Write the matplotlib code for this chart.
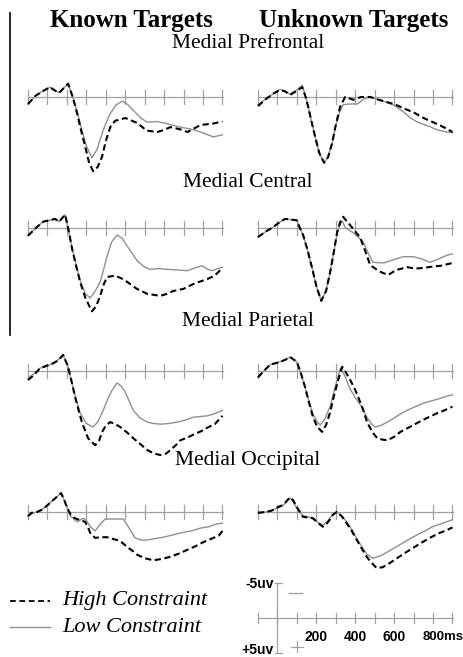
import matplotlib.pyplot as plt
from matplotlib.lines import Line2D

# ERP grand averages, (ms, uV) pairs; negative is plotted up
PF_KNOWN_HIGH = [(-100, 1.0), (-60, -0.2), (-20, -0.9), (13, -1.4), (40, -0.9), (60, -0.6),
                 (106, -1.9), (130, 0.0), (152, 2.3), (175, 5.0), (194, 7.1), (215, 9.5),
                 (235, 10.6), (258, 10.0), (280, 8.6), (300, 6.3), (323, 4.3), (348, 3.4),
                 (400, 3.0), (461, 3.7), (510, 4.8), (565, 5.0), (600, 4.7), (632, 4.3),
                 (680, 4.6), (720, 5.0), (787, 4.0), (850, 3.8), (900, 3.5)]
PF_KNOWN_LOW = [(-100, 1.0), (-60, -0.2), (-20, -0.9), (13, -1.4), (40, -0.9), (60, -0.6),
                (106, -1.9), (130, 0.0), (152, 2.0), (175, 4.5), (200, 7.0), (228, 8.7),
                (255, 7.5), (287, 4.7), (320, 2.5), (350, 1.2), (385, 0.6), (410, 1.0),
                (441, 1.9), (480, 3.0), (513, 3.6), (560, 3.5), (596, 3.7), (640, 4.0),
                (683, 4.3), (740, 4.6), (787, 5.0), (853, 5.7), (900, 5.4)]

PF_UNKNOWN_HIGH = [(-100, 1.3), (-60, 0.3), (-20, -0.5), (13, -1.0), (40, -0.8), (65, -0.3),
                   (100, -0.9), (127, -1.4), (145, 0.0), (158, 1.4), (175, 3.5), (194, 5.7),
                   (215, 8.0), (240, 9.4), (260, 8.6), (281, 6.6), (300, 4.0), (322, 1.4),
                   (348, 0.0), (390, 0.4), (430, 0.0), (477, 0.0), (510, 0.3), (545, 0.6),
                   (600, 1.0), (647, 1.6), (700, 2.2), (751, 3.0), (800, 3.6), (854, 4.3),
                   (900, 5.0)]
PF_UNKNOWN_LOW = [(-100, 1.1), (-60, 0.3), (-20, -0.5), (13, -1.1), (40, -0.8), (65, -0.4),
                  (100, -1.0), (127, -1.7), (145, 0.0), (158, 1.4), (175, 3.5), (194, 5.7),
                  (215, 8.0), (240, 9.4), (260, 8.6), (281, 6.6), (300, 4.0), (322, 2.0),
                  (338, 1.1), (370, 1.0), (410, 1.0), (450, 0.2), (477, 0.0), (545, 0.6),
                  (600, 1.2), (647, 2.1), (685, 3.0), (720, 3.6), (780, 4.2), (823, 4.7),
                  (870, 5.0), (900, 5.1)]

MC_KNOWN_HIGH = [(-100, 1.1), (-60, 0.0), (-22, -0.9), (10, -1.1), (39, -1.3), (60, -0.9),
                 (91, -1.9), (110, 0.5), (127, 3.0), (148, 5.5), (168, 7.7), (195, 10.0),
                 (229, 11.9), (250, 11.2), (271, 9.7), (290, 8.0), (307, 7.0), (348, 6.8),
                 (380, 7.2), (410, 7.7), (460, 8.7), (513, 9.4), (580, 9.7), (615, 9.4),
                 (647, 9.0), (699, 8.7), (750, 8.0), (790, 7.6), (822, 7.3), (860, 6.8),
                 (900, 5.7)]
MC_KNOWN_LOW = [(-100, 1.1), (-60, 0.0), (-22, -0.9), (10, -1.1), (39, -1.3), (60, -0.9),
                (91, -1.9), (110, 0.5), (127, 3.0), (148, 5.3), (168, 7.5), (195, 9.4),
                (220, 10.0), (250, 8.8), (271, 7.7), (290, 5.8), (307, 4.0), (330, 2.0),
                (358, 1.0), (385, 1.5), (410, 2.6), (440, 3.8), (462, 4.7), (495, 5.5),
                (528, 5.9), (570, 5.8), (615, 5.9), (670, 6.0), (718, 6.1), (760, 5.7),
                (795, 5.4), (825, 5.9), (848, 6.1), (875, 5.8), (900, 5.6)]

MC_UNKNOWN_HIGH = [(-100, 1.3), (-60, 0.5), (-23, -0.1), (10, -0.8), (39, -1.3), (70, -1.2),
                   (100, -1.1), (115, 0.0), (132, 1.0), (155, 3.2), (178, 5.7), (200, 8.3),
                   (225, 10.4), (250, 9.0), (271, 6.3), (290, 3.4), (307, 0.6), (322, -0.8),
                   (338, -1.6), (355, -1.0), (374, -0.4), (400, 0.5), (426, 1.4), (450, 3.2),
                   (477, 5.3), (513, 6.0), (540, 6.4), (570, 6.7), (610, 6.0), (667, 5.6),
                   (710, 5.8), (750, 5.7), (800, 5.5), (838, 5.4), (900, 5.0)]
MC_UNKNOWN_LOW = [(-100, 1.3), (-60, 0.5), (-23, -0.1), (10, -0.8), (39, -1.3), (70, -1.2),
                  (100, -1.1), (115, 0.0), (132, 1.0), (155, 3.2), (178, 5.7), (200, 8.3),
                  (225, 10.4), (250, 9.0), (271, 6.3), (290, 3.4), (307, 0.8), (322, -0.5),
                  (333, -1.0), (350, 0.0), (374, 0.4), (400, 0.9), (441, 2.0), (470, 3.8),
                  (492, 4.9), (545, 5.0), (600, 4.5), (647, 4.1), (700, 4.1), (750, 4.5),
                  (785, 4.9), (830, 4.4), (870, 3.9), (900, 3.7)]

MP_KNOWN_HIGH = [(-100, 1.3), (-70, 0.6), (-38, -0.4), (0, -0.8), (29, -1.1), (55, -1.5),
                 (81, -2.3), (106, -0.6), (125, 1.6), (142, 3.7), (160, 5.6), (178, 7.4),
                 (209, 9.6), (245, 10.6), (265, 10.0), (281, 8.7), (300, 7.8), (323, 7.3),
                 (350, 7.6), (374, 8.0), (410, 8.8), (441, 9.6), (480, 10.5), (513, 11.3),
                 (550, 11.8), (580, 12.0), (610, 11.8), (632, 11.3), (660, 10.6), (683, 9.9),
                 (720, 9.5), (750, 9.1), (790, 8.6), (822, 8.1), (860, 7.6), (900, 6.4)]
MP_KNOWN_LOW = [(-100, 1.0), (-70, 0.4), (-38, -0.4), (0, -0.7), (29, -1.1), (55, -1.6),
                (81, -2.3), (106, -0.6), (125, 1.6), (142, 3.5), (168, 6.0), (200, 7.5),
                (235, 8.0), (260, 7.2), (287, 5.6), (310, 4.0), (333, 2.7), (358, 1.7),
                (380, 2.2), (400, 3.0), (420, 4.3), (441, 5.6), (475, 6.7), (513, 7.3),
                (545, 7.5), (580, 7.6), (625, 7.5), (668, 7.3), (710, 7.0), (750, 6.6),
                (790, 6.5), (822, 6.4), (860, 6.1), (900, 5.6)]

MP_UNKNOWN_HIGH = [(-100, 0.9), (-70, 0.0), (-38, -0.9), (13, -1.3), (40, -1.6), (65, -2.0),
                   (100, -1.3), (120, 0.3), (142, 2.3), (162, 4.5), (183, 6.6), (205, 8.0),
                   (230, 8.7), (250, 7.7), (271, 5.9), (290, 3.6), (312, 1.3), (333, -0.6),
                   (350, 0.1), (374, 1.3), (395, 2.4), (415, 3.7), (440, 5.5), (462, 7.4),
                   (490, 8.8), (513, 9.6), (540, 9.8), (565, 9.9), (600, 9.4), (632, 8.7),
                   (680, 8.0), (720, 7.4), (770, 6.7), (823, 6.0), (860, 5.6), (900, 5.1)]
MP_UNKNOWN_LOW = [(-100, 0.9), (-70, 0.0), (-38, -0.9), (13, -1.3), (40, -1.6), (65, -2.0),
                  (100, -1.3), (120, 0.3), (142, 2.3), (162, 4.3), (183, 6.2), (205, 7.3),
                  (220, 7.7), (245, 6.8), (271, 5.0), (300, 2.0), (323, -0.4), (345, 0.6),
                  (374, 2.6), (400, 3.8), (430, 5.0), (462, 6.7), (485, 7.6), (503, 8.0),
                  (530, 7.8), (565, 7.3), (600, 6.7), (647, 5.9), (700, 5.2), (750, 4.6),
                  (800, 4.2), (838, 3.9), (870, 3.6), (900, 3.4)]

MO_KNOWN_HIGH = [(-100, 0.6), (-80, 0.1), (-54, 0.0), (-30, -0.3), (-3, -0.9), (29, -1.7),
                 (50, -2.2), (70, -2.7), (85, -1.8), (101, -0.6), (120, 0.4), (142, 0.9),
                 (170, 1.2), (194, 1.4), (210, 2.3), (220, 3.0), (245, 3.7), (275, 3.6),
                 (307, 3.6), (330, 3.8), (358, 4.0), (385, 4.4), (410, 5.0), (440, 5.6),
                 (461, 6.1), (500, 6.6), (544, 6.9), (590, 6.7), (632, 6.4), (680, 5.9),
                 (719, 5.4), (760, 4.9), (802, 4.3), (853, 3.7), (880, 3.4), (900, 2.7)]
MO_KNOWN_LOW = [(-100, 0.6), (-80, 0.2), (-54, 0.0), (-30, -0.3), (-3, -0.9), (29, -1.7),
                (50, -2.2), (70, -2.7), (85, -1.8), (101, -0.6), (120, 0.6), (152, 1.4),
                (183, 0.9), (200, 1.2), (220, 2.1), (245, 2.7), (270, 1.8), (297, 1.0),
                (340, 1.0), (390, 1.0), (420, 2.3), (451, 3.7), (480, 4.0), (513, 4.0),
                (555, 3.8), (596, 3.6), (640, 3.3), (683, 3.0), (740, 2.7), (787, 2.3),
                (830, 2.1), (870, 1.7), (900, 1.6)]

MO_UNKNOWN_HIGH = [(-100, 0.1), (-60, 0.0), (-30, -0.2), (-5, -0.6), (28, -1.0), (45, -1.5),
                   (64, -2.1), (80, -1.7), (100, -0.7), (131, 0.7), (160, 0.8), (182, 0.9),
                   (210, 1.6), (233, 2.1), (255, 1.6), (269, 1.1), (285, 0.4), (305, 0.0),
                   (330, 0.6), (356, 1.6), (380, 2.6), (408, 4.0), (435, 5.3), (459, 6.4),
                   (485, 7.3), (510, 8.0), (540, 7.9), (577, 7.3), (620, 6.5), (664, 5.7),
                   (705, 5.0), (746, 4.3), (790, 3.6), (833, 3.0), (870, 2.6), (900, 2.2)]
MO_UNKNOWN_LOW = [(-100, 0.2), (-60, 0.0), (-30, -0.2), (-5, -0.5), (28, -0.9), (45, -1.4),
                  (64, -2.0), (80, -1.5), (100, -0.5), (131, 0.5), (160, 0.7), (182, 0.8),
                  (210, 1.5), (233, 1.9), (255, 1.4), (269, 0.9), (285, 0.3), (305, 0.0),
                  (330, 0.5), (356, 1.4), (380, 2.4), (408, 3.8), (435, 5.0), (459, 6.0),
                  (490, 6.6), (515, 6.4), (541, 6.1), (585, 5.4), (628, 4.7), (670, 4.0),
                  (715, 3.3), (760, 2.7), (797, 2.1), (850, 1.6), (900, 1.1)]

ROWS = [
    ('Medial Prefrontal', PF_KNOWN_HIGH, PF_KNOWN_LOW, PF_UNKNOWN_HIGH, PF_UNKNOWN_LOW),
    ('Medial Central', MC_KNOWN_HIGH, MC_KNOWN_LOW, MC_UNKNOWN_HIGH, MC_UNKNOWN_LOW),
    ('Medial Parietal', MP_KNOWN_HIGH, MP_KNOWN_LOW, MP_UNKNOWN_HIGH, MP_UNKNOWN_LOW),
    ('Medial Occipital', MO_KNOWN_HIGH, MO_KNOWN_LOW, MO_UNKNOWN_HIGH, MO_UNKNOWN_LOW),
]
SCALE_LABELS = [200, 400, 600]

W, H = 464, 657
PX_MS = 19.45 / 100   # pixels per ms
PX_UV = 7.0           # pixels per uV
GRAY = '#8f8f8f'
AXIS_GRAY = '#a0a0a0'

fig = plt.figure(figsize=(W / 100, H / 100), dpi=100)
fig.patch.set_facecolor('white')


def erp_axes(x0, base):
    # axes in ms / uV with 0 ms at x0 + 100 ms and 0 uV at pixel row `base`
    top = base - 9 * PX_UV
    bottom = base + 14 * PX_UV
    ax = fig.add_axes([x0 / W, 1 - bottom / H, 1000 * PX_MS / W, (bottom - top) / H])
    ax.set_xlim(-100, 900)
    ax.set_ylim(14, -9)
    ax.axis('off')
    ax.patch.set_alpha(0)
    return ax


def time_axis(ax, tick=1.0):
    ax.plot([-100, 905], [0, 0], color=AXIS_GRAY, lw=0.9, clip_on=False)
    for t in range(-100, 901, 100):
        ax.plot([t, t], [-tick, tick], color=AXIS_GRAY, lw=0.9, clip_on=False)


def draw_curves(ax, high, low):
    ax.plot([p[0] for p in low], [p[1] for p in low], color=GRAY, lw=1.0, clip_on=False)
    ax.plot([p[0] for p in high], [p[1] for p in high], color='black', lw=1.5,
            dashes=(3.0, 1.7), clip_on=False)


baselines = [97, 228, 371, 512]
title_y = [44, 183, 322, 461]
for (name, kh, kl, uh, ul), base, ty in zip(ROWS, baselines, title_y):
    for x0, high, low in [(28, kh, kl), (258, uh, ul)]:
        ax = erp_axes(x0, base)
        time_axis(ax)
        draw_curves(ax, high, low)
    fig.text(248 / W, 1 - ty / H, name, ha='center', va='center',
             family='Liberation Serif', fontsize=15.5)

fig.text(131 / W, 1 - 21 / H, 'Known Targets', ha='center', va='center',
         family='Liberation Serif', weight='bold', fontsize=18)
fig.text(354 / W, 1 - 21 / H, 'Unknown Targets', ha='center', va='center',
         family='Liberation Serif', weight='bold', fontsize=18)

# frame line on the left
fig.add_artist(Line2D([10 / W, 10 / W], [1 - 13 / H, 1 - 335 / H], color='black', lw=1.2))

# legend
for y, style in [(601, 'high'), (627, 'low')]:
    if style == 'high':
        ln = Line2D([10 / W, 50 / W], [1 - y / H] * 2, color='black', lw=1.3, dashes=(3.2, 2.0))
        label = 'High Constraint'
    else:
        ln = Line2D([10 / W, 50 / W], [1 - y / H] * 2, color=GRAY, lw=1.0)
        label = 'Low Constraint'
    fig.add_artist(ln)
    fig.text(62 / W, 1 - y / H, label, ha='left', va='center',
             family='Liberation Serif', style='italic', fontsize=16)

# calibration: scale bar
sb = erp_axes(258, 618)
time_axis(sb, tick=0.75)
sb.plot([0, 0], [-5, 5], color=AXIS_GRAY, lw=0.9, clip_on=False)
sb.plot([-15, 25], [-5, -5], color=AXIS_GRAY, lw=0.9, clip_on=False)
sb.plot([-15, 25], [5, 5], color=AXIS_GRAY, lw=0.9, clip_on=False)
sb.plot([58, 128], [-3.6, -3.6], color=AXIS_GRAY, lw=0.9, clip_on=False)
sb.plot([70, 130], [4.1, 4.1], color=AXIS_GRAY, lw=0.9, clip_on=False)
sb.plot([100, 100], [3.3, 4.9], color=AXIS_GRAY, lw=0.9, clip_on=False)
for t in SCALE_LABELS:
    sb.text(t, 2.7, str(t), ha='center', va='center', family='Liberation Sans',
            weight='bold', fontsize=10)
sb.text(745, 2.7, '800ms', ha='left', va='center', family='Liberation Sans',
        weight='bold', fontsize=9.5)
sb.text(-20, -4.8, '-5uv', ha='right', va='center', family='Liberation Sans',
        weight='bold', fontsize=10)
sb.text(-20, 4.6, '+5uv', ha='right', va='center', family='Liberation Sans',
        weight='bold', fontsize=10)

fig.savefig('out.png', dpi=100)
